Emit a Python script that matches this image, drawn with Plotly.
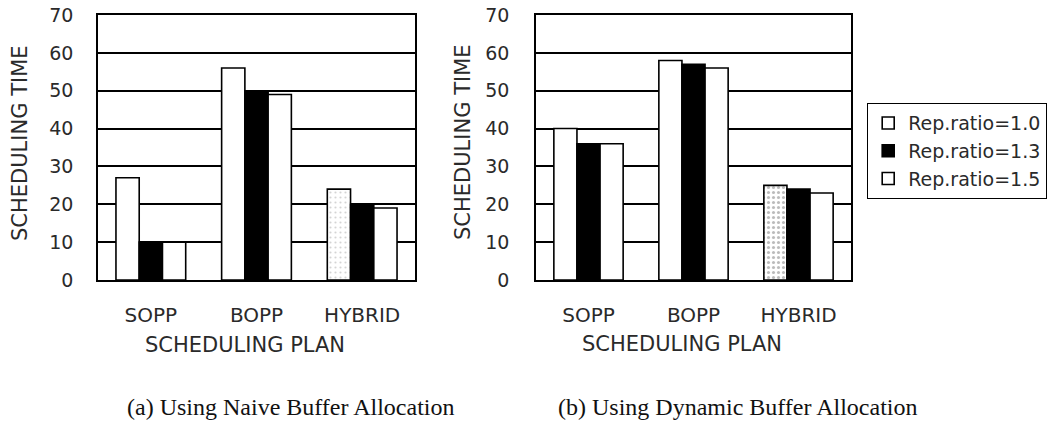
import plotly.graph_objects as go

# ---- data ----
categories = ["SOPP", "BOPP", "HYBRID"]
series_names = ["Rep.ratio=1.0", "Rep.ratio=1.3", "Rep.ratio=1.5"]

naive_r10 = [27, 56, 24]
naive_r13 = [10, 50, 20]
naive_r15 = [10, 49, 19]

dynamic_r10 = [40, 58, 25]
dynamic_r13 = [36, 57, 24]
dynamic_r15 = [36, 56, 23]

y_ticks = [0, 10, 20, 30, 40, 50, 60, 70]
y_title = "SCHEDULING TIME"
x_title = "SCHEDULING PLAN"
captions = ["(a) Using Naive Buffer Allocation", "(b) Using Dynamic Buffer Allocation"]

# ---- styling ----
W, H = 1047, 422
SANS = "DejaVu Sans"
SERIF = "Liberation Serif"
TXT = "#2a2a2a"
fills = ["white", "black", "white"]

fig = go.Figure()

groups = [
    ("x", "y", [naive_r10, naive_r13, naive_r15], True, "#aaaaaa", 0.15),
    ("x2", "y2", [dynamic_r10, dynamic_r13, dynamic_r15], False, "#777777", 0.3),
]
for xa, ya, vals, show, pfg, psol in groups:
    for i, v in enumerate(vals):
        if i == 0:
            pat = dict(shape=["", "", "."], fgcolor=pfg, bgcolor="white",
                       size=5, solidity=psol, fillmode="overlay")
        else:
            pat = dict(shape="")
        fig.add_trace(go.Bar(
            x=categories, y=v, name=series_names[i], xaxis=xa, yaxis=ya,
            showlegend=show, legendgroup=series_names[i],
            marker=dict(color=fills[i], line=dict(color="black", width=1.6),
                        pattern=pat),
            hoverinfo="x+y+name",
        ))

axis_common_x = dict(
    type="category", showline=True, mirror=True, linecolor="black", linewidth=1.5,
    showgrid=False, ticks="", tickfont=dict(family=SANS, size=20, color=TXT),
    ticklabelstandoff=16, automargin=False, zeroline=False,
)
axis_common_y = dict(
    range=[0, 70], tickvals=y_ticks, showline=True, mirror=True, linecolor="black",
    linewidth=1.5, showgrid=True, gridcolor="black", gridwidth=1.5, ticks="",
    tickfont=dict(family=SANS, size=19, color=TXT), automargin=False, zeroline=False,
)

left_dom = [98 / W, 415 / W]
right_dom = [536 / W, 851 / W]
y_dom = [1 - 280 / H, 1 - 15 / H]

fig.update_layout(
    width=W, height=H, template="none",
    margin=dict(l=0, r=0, t=0, b=0),
    paper_bgcolor="white", plot_bgcolor="white",
    barmode="group", bargap=0.34, bargroupgap=0.0,
    xaxis=dict(domain=left_dom, anchor="y", **axis_common_x),
    yaxis=dict(domain=y_dom, anchor="x", ticklabelstandoff=19, **axis_common_y),
    xaxis2=dict(domain=right_dom, anchor="y2", **axis_common_x),
    yaxis2=dict(domain=y_dom, anchor="x2", ticklabelstandoff=21, **axis_common_y),
    legend=dict(
        x=867 / W, y=1 - 103 / H, xanchor="left", yanchor="top",
        bordercolor="black", borderwidth=1.2, bgcolor="white",
        font=dict(family=SANS, size=19, color=TXT), traceorder="normal",
    ),
    showlegend=True,
)

annotations = [
    # y-axis titles
    dict(text=y_title, x=20 / W, y=1 - 143 / H, textangle=-90),
    dict(text=y_title, x=463 / W, y=1 - 142 / H, textangle=-90),
    # x-axis titles
    dict(text=x_title, x=245 / W, y=1 - 345 / H),
    dict(text=x_title, x=682 / W, y=1 - 344 / H),
]
for a in annotations:
    fig.add_annotation(xref="paper", yref="paper", showarrow=False,
                       xanchor="center", yanchor="middle",
                       font=dict(family=SANS, size=21, color=TXT), **a)

for cap, cx in zip(captions, [290, 737]):
    fig.add_annotation(text=cap, xref="paper", yref="paper", x=cx / W, y=1 - 407 / H,
                       showarrow=False, xanchor="center", yanchor="middle",
                       font=dict(family=SERIF, size=24, color="#111111"))

fig.write_html("out.html")
